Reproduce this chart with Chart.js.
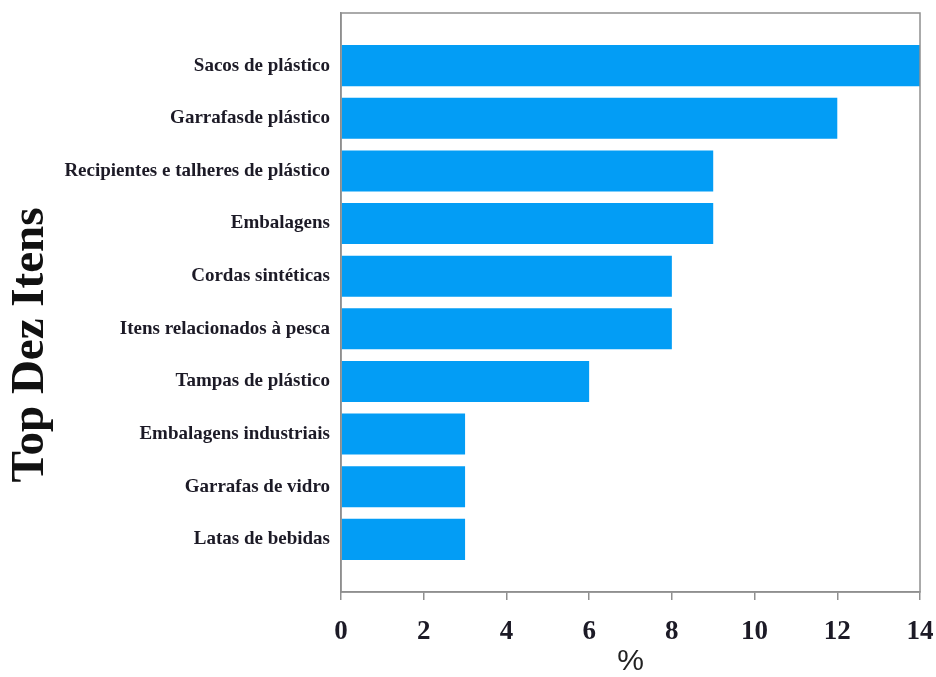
<!DOCTYPE html>
<html>
<head>
<meta charset="utf-8">
<script src="https://cdn.jsdelivr.net/npm/chart.js@4/dist/chart.umd.min.js"></script>
<style>
html,body{margin:0;padding:0;background:#fff;}
#wrap{width:936px;height:677px;}
</style>
</head>
<body>
<div id="wrap"><canvas id="c" width="936" height="677"></canvas></div>
<script>
const categories = [
  "Sacos de plástico",
  "Garrafasde plástico",
  "Recipientes e talheres de plástico",
  "Embalagens",
  "Cordas sintéticas",
  "Itens relacionados à pesca",
  "Tampas de plástico",
  "Embalagens industriais",
  "Garrafas de vidro",
  "Latas de bebidas"
];
const percentValues = [14, 12, 9, 9, 8, 8, 6, 3, 3, 3];
const xTicks = [0, 2, 4, 6, 8, 10, 12, 14];
const yAxisTitle = "Top Dez Itens";
const xAxisTitle = "%";

// pad one empty slot at each end (the reference leaves a full row of space above and below)
const labels = [""].concat(categories, [""]);
const data = [null].concat(percentValues, [null]);

const frame = {
  id: 'frame',
  afterDatasetsDraw(chart) {
    const a = chart.chartArea, ctx = chart.ctx;
    ctx.save();
    ctx.strokeStyle = '#8f8f8f';
    ctx.lineWidth = 1.5;
    ctx.strokeRect(a.left, a.top, a.right - a.left, a.bottom - a.top);
    ctx.restore();
  }
};

new Chart(document.getElementById('c'), {
  type: 'bar',
  data: {
    labels: labels,
    datasets: [{
      data: data,
      backgroundColor: 'rgb(3,157,245)',
      borderWidth: 0,
      categoryPercentage: 1,
      barPercentage: 0.78
    }]
  },
  options: {
    indexAxis: 'y',
    responsive: false,
    animation: false,
    devicePixelRatio: 1,
    layout: { padding: { top: 13, right: 16, bottom: 0, left: 0 } },
    plugins: {
      legend: { display: false },
      tooltip: { enabled: false },
      title: {
        display: true,
        position: 'left',
        text: yAxisTitle,
        color: '#111',
        font: { family: 'Liberation Serif', size: 47, weight: 'bold', lineHeight: 1.2 },
        padding: { top: 3, bottom: 4 }
      }
    },
    scales: {
      x: {
        min: 0, max: 14,
        afterBuildTicks(scale) { scale.ticks = xTicks.map(v => ({ value: v })); },
        afterFit(scale) { scale.height = 85; scale.paddingLeft = 0; scale.paddingRight = 0; },
        grid: { drawOnChartArea: false, drawTicks: true, tickLength: 8, color: '#8f8f8f', lineWidth: 1.5 },
        border: { display: true, color: '#8f8f8f', width: 1.5 },
        ticks: {
          padding: 16,
          color: '#1c1a26',
          font: { family: 'Liberation Serif', size: 27, weight: 'bold' },
          maxRotation: 0
        },
        title: {
          display: true,
          text: xAxisTitle,
          color: '#222',
          font: { family: 'Liberation Sans', size: 30, lineHeight: 1 },
          padding: { top: 0, bottom: 0 }
        }
      },
      y: {
        offset: false,
        afterFit(scale) { scale.width = 341 - 63.4; scale.paddingTop = 0; scale.paddingBottom = 0; },
        grid: { display: false, drawTicks: false },
        border: { display: true, color: '#8f8f8f', width: 1.5 },
        ticks: {
          padding: 11,
          color: '#1c1a26',
          font: { family: 'Liberation Serif', size: 19, weight: 'bold' },
          autoSkip: false
        }
      }
    }
  },
  plugins: [frame]
});
</script>
</body>
</html>
